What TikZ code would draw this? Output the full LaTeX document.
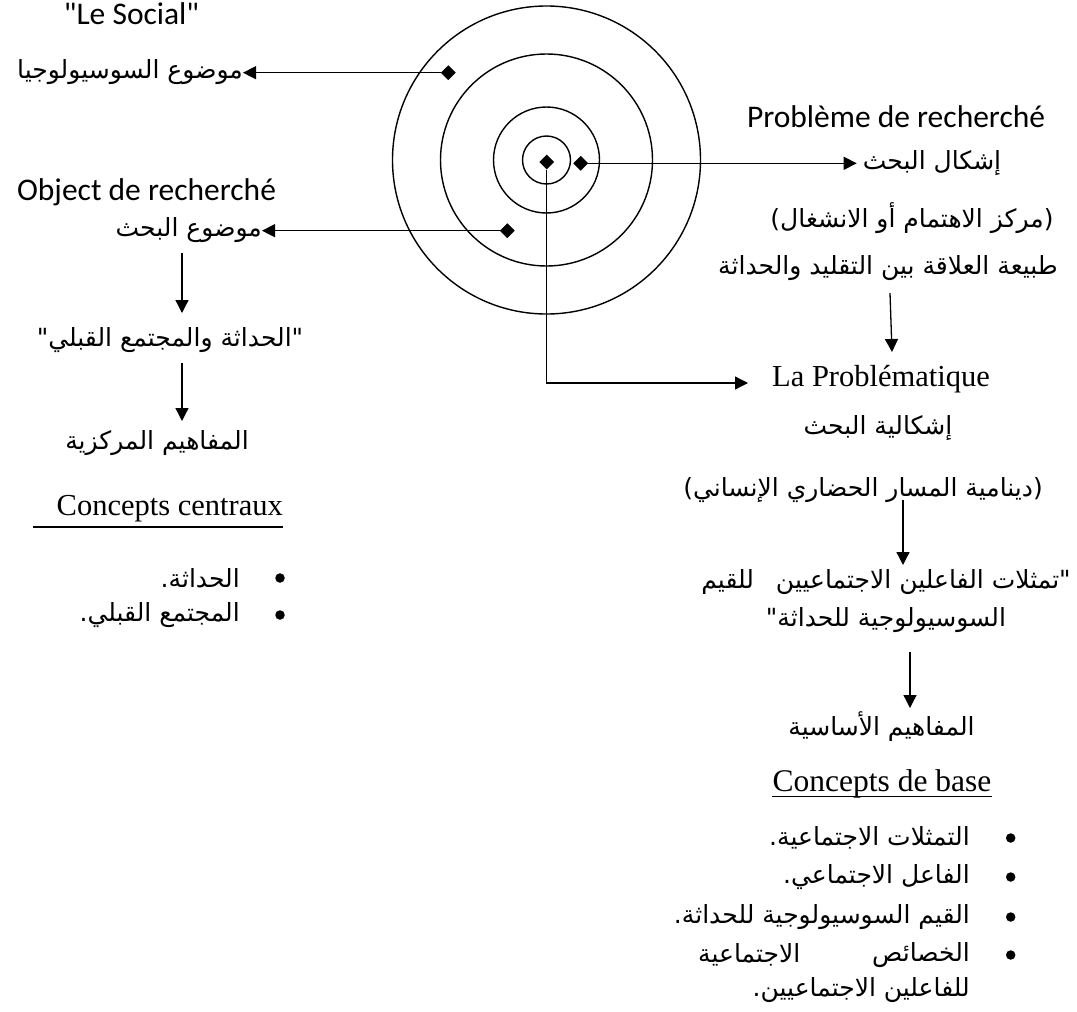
\documentclass[tikz,border=0pt]{standalone}
\usepackage{fontspec}
\usetikzlibrary{arrows.meta,shapes.geometric}
\TeXXeTstate=1
\newfontfamily\arfont[Script=Arabic]{DejaVu Sans}
\newfontfamily\calfont{Carlito}
\newfontfamily\tnrfont{Liberation Serif}
\begin{document}
\begin{tikzpicture}[x=1pt,y=-1pt,
  ar/.style={inner sep=0pt,font=\arfont\fontsize{25}{30}\selectfont},
  cal/.style={inner sep=0pt,font=\calfont\fontsize{31.5}{36}\selectfont},
  tnr/.style={inner sep=0pt,font=\tnrfont\fontsize{30.5}{34}\selectfont},
  ring/.style={circle,draw,line width=1.4pt,inner sep=0pt},
  dia/.style={diamond,fill=black,inner sep=0pt,minimum size=15pt},
  arr/.style={line width=1.3pt,-{Triangle[length=13pt,width=13pt]}},
  dot/.style={circle,fill=black,inner sep=0pt,minimum size=9.5pt},
  uline/.style={line width=1.4pt}]
\useasboundingbox (0,0) rectangle (1077,1012);
% rings
\node[ring,minimum size=48pt]  (ring1) at (546.5,160) {};
\node[ring,minimum size=106pt] (ring2) at (546.5,160) {};
\node[ring,minimum size=212pt] (ring3) at (546.5,160) {};
\node[ring,minimum size=308pt] (ring4) at (546.5,160) {};
% diamonds
\node[dia] (d0) at (546.7,162) {};
\node[dia] (d1) at (448.3,72.7) {};
\node[dia] (d2) at (507.3,230.7) {};
\node[dia] (d3) at (580.7,163.3) {};
% left column
\node[cal,anchor=base] (lesocial) at (131.5,24) {"Le Social"};
\node[ar,anchor=east] (t1) at (243,72) {\beginR موضوع السوسيولوجيا\endR};
\node[cal,anchor=base] (objet) at (146.5,200) {Object de recherché};
\node[ar,anchor=east] (t2) at (262,230) {\beginR موضوع البحث\endR};
\node[ar] (t3) at (170,340) {\beginR "الحداثة والمجتمع القبلي"\endR};
\node[ar] (t4) at (157,443) {\beginR المفاهيم المركزية\endR};
\node[tnr,anchor=base east] (cc) at (283,515) {Concepts centraux};
\node[dot] (lb1) at (280,578) {};
\node[ar,anchor=east] (l1) at (240,578) {\beginR الحداثة.\endR};
\node[dot] (lb2) at (280,615) {};
\node[ar,anchor=east] (l2) at (240,615) {\beginR المجتمع القبلي.\endR};
\draw[uline] (33,527) -- (283,527);
% right column
\node[cal,anchor=base] (probleme) at (896,127) {Problème de recherché};
\node[ar,anchor=west] (r1) at (862.7,163) {\beginR إشكال البحث\endR};
\node[ar] (r2) at (912,218) {\beginR (مركز الاهتمام أو الانشغال)\endR};
\node[ar] (r3) at (888,268) {\beginR طبيعة العلاقة بين التقليد والحداثة\endR};
\node[tnr,anchor=base west] (pb) at (772,386) {La Problématique};
\node[ar] (r4) at (878,428) {\beginR إشكالية البحث\endR};
\node[ar] (r5) at (863,490) {\beginR (دينامية المسار الحضاري الإنساني)\endR};
\node[ar] (r6a) at (886,582) {\beginR "تمثلات الفاعلين الاجتماعيين\hspace{14pt} للقيم\endR};
\node[ar] (r6b) at (886,620) {\beginR السوسيولوجية للحداثة"\endR};
\node[ar] (r7) at (881.5,727) {\beginR المفاهيم الأساسية\endR};
\node[tnr,anchor=base,font=\tnrfont\fontsize{31.5}{34}\selectfont] (cb) at (882,791.7) {Concepts de base};
\draw[uline] ([yshift=-5pt]cb.base west) -- ([yshift=-5pt]cb.base east);
\node[dot] (rb1) at (1010.7,838) {};
\node[ar,anchor=east] (i1) at (970,838) {\beginR التمثلات الاجتماعية.\endR};
\node[dot] (rb2) at (1010.7,877) {};
\node[ar,anchor=east] (i2) at (970,877) {\beginR الفاعل الاجتماعي.\endR};
\node[dot] (rb3) at (1010.7,917) {};
\node[ar,anchor=east] (i3) at (970,917) {\beginR القيم السوسيولوجية للحداثة.\endR};
\node[dot] (rb4) at (1010.7,955) {};
\node[ar,anchor=east] (i4a) at (970,955) {\beginR الخصائص\endR};
\node[ar,anchor=west] (i4b) at (698,955) {\beginR الاجتماعية\endR};
\node[ar,anchor=east] (i5) at (970,990) {\beginR للفاعلين الاجتماعيين.\endR};
% connectors
\draw[arr] (d1) -- (d1 -| t1.east);
\draw[arr] (d2) -- (d2 -| t2.east);
\draw[arr] (d3) -- ([xshift=-6pt]d3 -| r1.west);
\coordinate (pbin) at (748,383);
\draw[arr] (d0) |- (pbin);
\coordinate (a1s) at (182,253); \coordinate (a1e) at (182,313);
\draw[arr] (a1s) -- (a1e);
\coordinate (a2s) at (182,363); \coordinate (a2e) at (182,421);
\draw[arr] (a2s) -- (a2e);
\coordinate (a3s) at (890,293); \coordinate (a3e) at (892,352);
\draw[arr] (a3s) -- (a3e);
\coordinate (a4s) at (903,500); \coordinate (a4e) at (903,565);
\draw[arr] (a4s) -- (a4e);
\coordinate (a5s) at (910,652); \coordinate (a5e) at (910,708);
\draw[arr] (a5s) -- (a5e);
\end{tikzpicture}
\end{document}
